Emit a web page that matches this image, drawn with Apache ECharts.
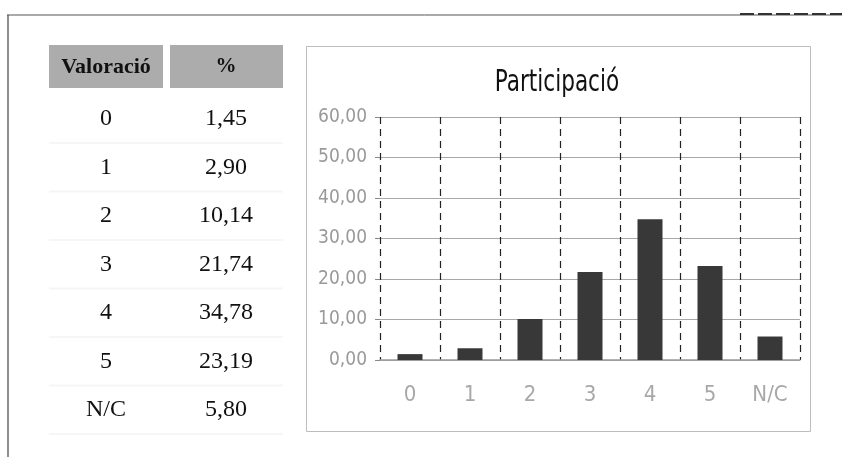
<!DOCTYPE html>
<html>
<head>
<meta charset="utf-8">
<script src="https://cdn.jsdelivr.net/npm/echarts@6/dist/echarts.min.js"></script>
<style>
  html, body { margin: 0; padding: 0; background: #fff; }
  #chart { width: 842px; height: 457px; }
</style>
</head>
<body>
<div id="chart"></div>
<script>
var categories = ["0", "1", "2", "3", "4", "5", "N/C"];
var percents = [1.45, 2.90, 10.14, 21.74, 34.78, 23.19, 5.80];
var headers = ["Valoració", "%"];
var title = "Participació";

function fmt(v) {
  return v.toFixed(2).replace(".", ",");
}

var chartDom = document.getElementById("chart");
var myChart = echarts.init(chartDom);

var narrow = "'DejaVu Sans Condensed', 'Liberation Sans Narrow', sans-serif";

// table on the left, drawn as graphic text
var graphics = [
  // scan frame
  { type: "line", shape: { x1: 7, y1: 15, x2: 842, y2: 15 }, style: { stroke: "#555", lineWidth: 1 } },
  { type: "line", shape: { x1: 740, y1: 14, x2: 842, y2: 14 }, style: { stroke: "#333", lineWidth: 2, lineDash: [14, 4] } },
  { type: "line", shape: { x1: 8, y1: 15, x2: 8, y2: 457 }, style: { stroke: "#444", lineWidth: 1.2 } },
  // chart panel border
  { type: "rect", shape: { x: 306.5, y: 46.5, width: 504, height: 385 }, style: { fill: null, stroke: "#bdbdbd", lineWidth: 1 }, z: -1 },
  // header cells
  { type: "rect", shape: { x: 49, y: 45, width: 114, height: 43 }, style: { fill: "#acacac" } },
  { type: "rect", shape: { x: 170, y: 45, width: 113, height: 43 }, style: { fill: "#acacac" } },
  {
    type: "text", x: 106, y: 67,
    style: { text: headers[0], font: "bold 22px 'Liberation Serif'", fill: "#111", textAlign: "center", textVerticalAlign: "middle" }
  },
  {
    type: "text", x: 226, y: 67,
    style: { text: headers[1], font: "bold 21px 'Liberation Serif'", fill: "#111", textAlign: "center", textVerticalAlign: "middle" }
  },
  // title
  {
    type: "text", x: 557, y: 83, scaleX: 0.8,
    style: { text: title, font: "30px " + narrow, fill: "#111", textAlign: "center", textVerticalAlign: "middle" }
  }
];

var rowTop = 119;
var rowStep = 48.5;
categories.forEach(function (c, i) {
  var y = rowTop + i * rowStep;
  // faint ghost of the scan
  graphics.push({ type: "line", shape: { x1: 49, y1: y + 24, x2: 283, y2: y + 24 }, style: { stroke: "#f6f6f6", lineWidth: 2 } });
  graphics.push({
    type: "text", x: 106, y: y,
    style: { text: c, font: "24px 'Liberation Serif'", fill: "#111", textAlign: "center", textVerticalAlign: "middle" }
  });
  graphics.push({
    type: "text", x: 226, y: y,
    style: { text: fmt(percents[i]), font: "24px 'Liberation Serif'", fill: "#111", textAlign: "center", textVerticalAlign: "middle" }
  });
});

var option = {
  backgroundColor: "#fff",
  animation: false,
  graphic: graphics,
  grid: {
    left: 380,
    right: 42,
    top: 117,
    bottom: 97
  },
  xAxis: {
    type: "category",
    data: categories,
    axisLine: { show: true, lineStyle: { color: "#9a9a9a", width: 1.5 } },
    axisTick: { show: false },
    axisLabel: {
      color: "#a8a8a8",
      fontSize: 22,
      fontFamily: narrow,
      margin: 24
    },
    splitLine: {
      show: true,
      lineStyle: { color: "#222", width: 1.2, type: [7, 5] }
    }
  },
  yAxis: {
    type: "value",
    min: 0,
    max: 60,
    interval: 10,
    axisLine: { show: false },
    axisTick: { show: true, length: 5, lineStyle: { color: "#888" } },
    axisLabel: {
      color: "#9a9a9a",
      fontSize: 19,
      fontFamily: narrow,
      margin: 13,
      formatter: function (v) { return fmt(v); }
    },
    splitLine: { show: true, lineStyle: { color: "#a8a8a8", width: 1 } }
  },
  series: [
    {
      type: "bar",
      data: percents,
      barWidth: 25,
      itemStyle: { color: "#383838" }
    }
  ]
};

option && myChart.setOption(option);
</script>
</body>
</html>
